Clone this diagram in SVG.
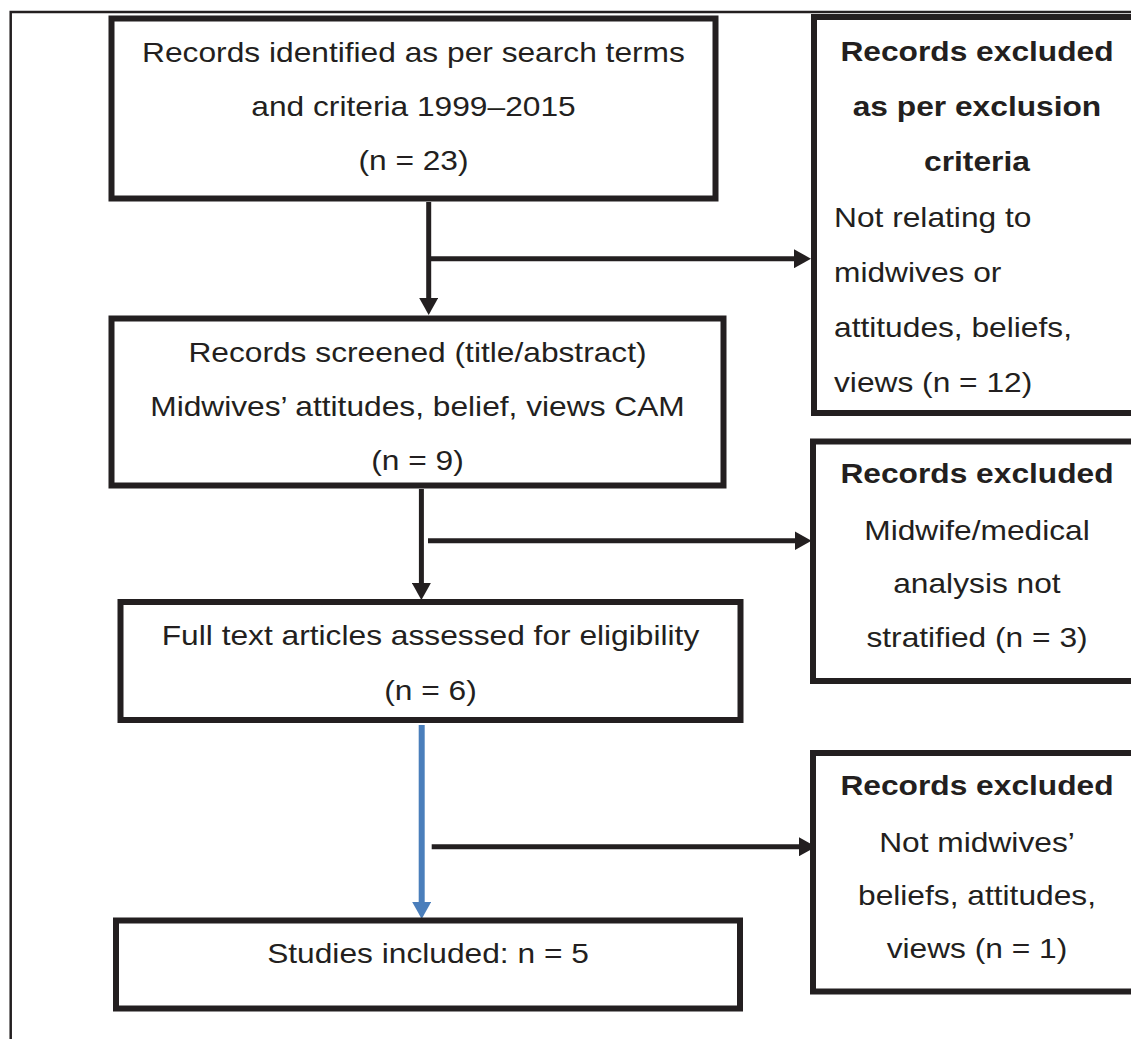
<svg xmlns="http://www.w3.org/2000/svg" width="1131" height="1039" viewBox="0 0 1131 1039">
<style>
.box { fill: #ffffff; stroke: #231f20; stroke-width: 6; }
.frame { fill: none; stroke: #231f20; stroke-width: 2.5; }
.con { fill: none; stroke: #231f20; stroke-width: 5; }
.blue { fill: none; stroke: #4a7ebb; stroke-width: 6; }
.t { font-family: "Liberation Sans", Arial, sans-serif; font-size: 28px; fill: #231f20; transform-box: fill-box; transform-origin: 50% 50%; transform: scaleX(1.133); }
.c { text-anchor: middle; }
.l { text-anchor: start; transform-origin: 0% 50%; }
.b { font-weight: bold; }
</style>
<defs>
<marker id="ah" markerUnits="userSpaceOnUse" markerWidth="17" markerHeight="19" refX="5" refY="9.5" orient="auto">
<path d="M0,0 L17,9.5 L0,19 Z" fill="#231f20"/>
</marker>
<marker id="ahb" markerUnits="userSpaceOnUse" markerWidth="17" markerHeight="19" refX="5" refY="9.5" orient="auto">
<path d="M0,0 L17,9.5 L0,19 Z" fill="#4a7ebb"/>
</marker>
</defs>
<rect width="1131" height="1039" fill="#ffffff"/>
<g id="frame">
<path class="frame" d="M10.7,1039 V12 H1131"/>
</g>
<g id="connectors">
<path class="con" d="M428.7,202 V303" marker-end="url(#ah)"/>
<path class="con" d="M428.7,258.7 H799" marker-end="url(#ah)"/>
<path class="con" d="M421.4,489 V588" marker-end="url(#ah)"/>
<path class="con" d="M428,540.7 H799.5" marker-end="url(#ah)"/>
<path class="blue" d="M421.7,725 V907" marker-end="url(#ahb)"/>
<path class="con" d="M431.7,846.7 H804" marker-end="url(#ah)"/>
</g>
<g id="n1">
<rect class="box" x="111.5" y="18.5" width="604" height="180"/>
<text class="t c" x="413.5" y="62">Records identified as per search terms</text>
<text class="t c" x="413.5" y="116">and criteria 1999–2015</text>
<text class="t c" x="413.5" y="170">(n = 23)</text>
</g>
<g id="n2">
<rect class="box" x="111.5" y="318.5" width="612" height="167"/>
<text class="t c" x="417.5" y="362">Records screened (title/abstract)</text>
<text class="t c" x="417.5" y="416">Midwives’ attitudes, belief, views CAM</text>
<text class="t c" x="417.5" y="470">(n = 9)</text>
</g>
<g id="n3">
<rect class="box" x="120.5" y="602" width="620" height="118"/>
<text class="t c" x="430.5" y="645">Full text articles assessed for eligibility</text>
<text class="t c" x="430.5" y="700">(n = 6)</text>
</g>
<g id="n4">
<rect class="box" x="116" y="920.5" width="624" height="88"/>
<text class="t c" x="428" y="963">Studies included: n = 5</text>
</g>
<g id="x1">
<rect class="box" x="814" y="17" width="340" height="396"/>
<text class="t c b" x="977" y="61">Records excluded</text>
<text class="t c b" x="977" y="116">as per exclusion</text>
<text class="t c b" x="977" y="171">criteria</text>
<text class="t l" x="834" y="227">Not relating to</text>
<text class="t l" x="834" y="282">midwives or</text>
<text class="t l" x="834" y="337">attitudes, beliefs,</text>
<text class="t l" x="834" y="392">views (n = 12)</text>
</g>
<g id="x2">
<rect class="box" x="813" y="441.5" width="340" height="239.5"/>
<text class="t c b" x="977" y="483">Records excluded</text>
<text class="t c" x="977" y="540">Midwife/medical</text>
<text class="t c" x="977" y="593">analysis not</text>
<text class="t c" x="977" y="647">stratified (n = 3)</text>
</g>
<g id="x3">
<rect class="box" x="813" y="753" width="340" height="238.5"/>
<text class="t c b" x="977" y="795">Records excluded</text>
<text class="t c" x="977" y="852">Not midwives’</text>
<text class="t c" x="977" y="905">beliefs, attitudes,</text>
<text class="t c" x="977" y="958">views (n = 1)</text>
</g>
</svg>
